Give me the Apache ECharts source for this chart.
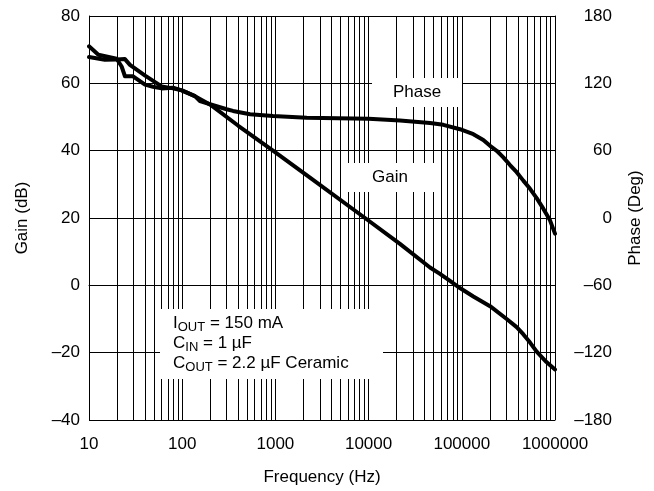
<!DOCTYPE html>
<html>
<head>
<meta charset="utf-8">
<script src="https://cdn.jsdelivr.net/npm/echarts@6/dist/echarts.min.js"></script>
<style>
  html, body { margin: 0; padding: 0; background: #fff; }
  #chart { width: 654px; height: 491px; }
</style>
</head>
<body>
<div id="chart"></div>
<script>
// values
const gainFreq = [10, 14.8, 19.8, 24.3, 27.5, 40, 60.2, 79.6, 98.9, 137, 207, 400, 942, 2350, 9150, 21700, 45600, 58300, 74700, 95500, 133000, 201000, 303000, 388000, 456000, 540000, 636000, 810000, 1000000]
const gainDb = [67.8, 67.0, 67.1, 67.2, 65.5, 62.3, 59.1, 58.5, 57.9, 56.2, 53.4, 47.4, 40.0, 32.0, 20.0, 12.3, 5.3, 3.4, 1.3, -0.8, -3.3, -6.2, -10.0, -12.4, -14.5, -17.0, -19.7, -22.8, -25.0]

const phaseFreq = [10, 12.6, 19.8, 22.4, 24.3, 29.7, 39.9, 48.6, 60.2, 79.6, 98.9, 137, 155, 234, 300, 351, 534, 942, 2170, 10000, 21700, 45600, 63400, 95500, 133000, 170000, 201000, 237000, 279000, 329000, 388000, 457000, 540000, 636000, 749000, 884000, 1000000]
const phaseDeg = [153, 145.5, 141.9, 135, 126.3, 126.3, 118.8, 117, 115.5, 116.1, 113.7, 108.6, 104.1, 99.6, 96.9, 95.4, 92.4, 90.9, 89.4, 88.5, 86.8, 84.6, 83.0, 79.1, 74.7, 69.6, 64.3, 59.9, 54.0, 47.2, 40.8, 33.3, 26.0, 17.7, 8.3, -2.1, -13.9]

const gainTicks = [-40, -20, 0, 20, 40, 60, 80]
const phaseTicks = [-180, -120, -60, 0, 60, 120, 180]

const font = 'Liberation Sans, Arial, sans-serif'
const black = '#000'

// 2..9 lines inside each decade (log paper grid)
const minorFreqs = []
for (let d = 10; d < 1000000; d *= 10) {
  for (let k = 2; k <= 9; k++) minorFreqs.push(d * k)
}

const dash = v => String(v).replace('-', '\u2013')

const chart = echarts.init(document.getElementById('chart'))

chart.setOption({
  animation: false,
  backgroundColor: '#fff',
  textStyle: { fontFamily: font, color: black },
  grid: { left: 89, right: 99, top: 16, bottom: 68 },
  xAxis: {
    type: 'log',
    logBase: 10,
    min: 10,
    max: 1000000,
    name: 'Frequency (Hz)',
    nameLocation: 'middle',
    nameGap: 49,
    nameTextStyle: { fontSize: 17, fontFamily: font, color: black },
    axisLine: { lineStyle: { color: black, width: 1 } },
    axisTick: { show: false },
    axisLabel: {
      fontSize: 17,
      fontFamily: font,
      color: black,
      margin: 16,
      formatter: v => String(Math.round(v))
    },
    splitLine: { show: true, lineStyle: { color: black, width: 1 } }
  },
  yAxis: [{
    type: 'value',
    min: gainTicks[0],
    max: gainTicks[gainTicks.length - 1],
    interval: 20,
    name: 'Gain (dB)',
    nameLocation: 'middle',
    nameRotate: 90,
    nameGap: 58,
    nameTextStyle: { fontSize: 17, fontFamily: font, color: black },
    axisLine: { show: true, lineStyle: { color: black, width: 1 } },
    axisTick: { show: false },
    axisLabel: { fontSize: 17, fontFamily: font, color: black, margin: 9, formatter: dash },
    splitLine: { show: true, lineStyle: { color: black, width: 1 } }
  }, {
    type: 'value',
    position: 'right',
    min: phaseTicks[0],
    max: phaseTicks[phaseTicks.length - 1],
    interval: 60,
    name: 'Phase (Deg)',
    nameLocation: 'middle',
    nameRotate: 90,
    nameGap: 72,
    nameTextStyle: { fontSize: 17, fontFamily: font, color: black },
    axisLine: { show: true, lineStyle: { color: black, width: 1 } },
    axisTick: { show: false },
    axisLabel: { fontSize: 17, fontFamily: font, color: black, margin: 57, align: 'right', formatter: dash },
    splitLine: { show: false }
  }],
  series: [{
    name: 'Gain',
    type: 'line',
    yAxisIndex: 0,
    data: gainFreq.map((f, i) => [f, gainDb[i]]),
    showSymbol: false,
    lineStyle: { color: black, width: 4, join: 'round', cap: 'round' },
    z: 3,
    markLine: {
      silent: true,
      symbol: 'none',
      label: { show: false },
      lineStyle: { color: black, width: 1, type: 'solid' },
      data: minorFreqs.map(f => ({ xAxis: f }))
    }
  }, {
    name: 'Phase',
    type: 'line',
    yAxisIndex: 1,
    data: phaseFreq.map((f, i) => [f, phaseDeg[i]]),
    showSymbol: false,
    lineStyle: { color: black, width: 4, join: 'round', cap: 'round' },
    z: 3
  }],
  graphic: [
    { type: 'rect', z: 100, shape: { x: 372, y: 78, width: 90, height: 29 }, style: { fill: '#fff' } },
    { type: 'text', z: 101, x: 417, y: 92, style: { text: 'Phase', font: '17px ' + font, fill: black, align: 'center', verticalAlign: 'middle' } },
    { type: 'rect', z: 100, shape: { x: 342, y: 163, width: 93, height: 29 }, style: { fill: '#fff' } },
    { type: 'text', z: 101, x: 390, y: 177, style: { text: 'Gain', font: '17px ' + font, fill: black, align: 'center', verticalAlign: 'middle' } },
    { type: 'rect', z: 100, shape: { x: 160, y: 309, width: 223, height: 70 }, style: { fill: '#fff' } },
    {
      type: 'text',
      z: 101,
      x: 173,
      y: 313,
      style: {
        text: 'I{s|OUT} = 150 mA\nC{s|IN} = 1 \u00b5F\nC{s|OUT} = 2.2 \u00b5F Ceramic',
        font: '17px ' + font,
        fill: black,
        lineHeight: 20,
        rich: {
          s: { fontSize: 13, fontFamily: font, fill: black, padding: [8, 0, 0, 0], lineHeight: 13 }
        }
      }
    }
  ]
})
</script>
</body>
</html>
